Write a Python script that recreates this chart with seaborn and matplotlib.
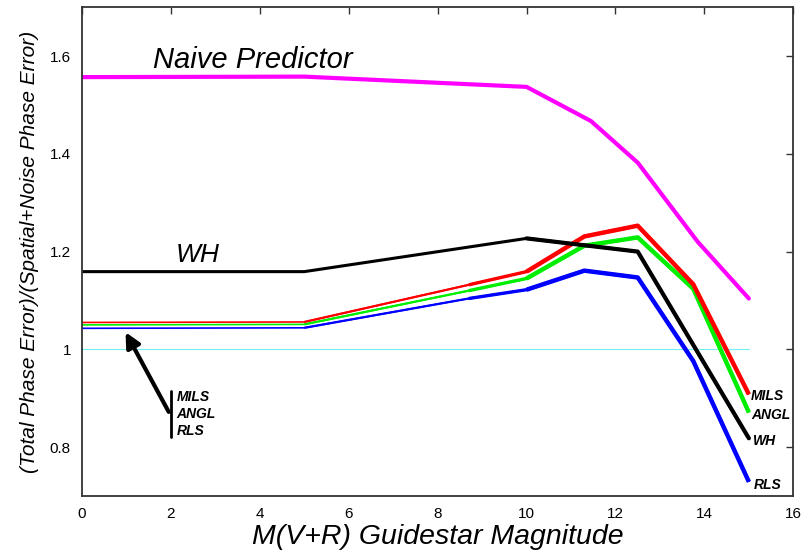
import pandas as pd
import matplotlib.pyplot as plt
import seaborn as sns

# values
x_rgb = [0, 5, 8.7, 10, 11.3, 12.5, 13.75, 15]
mils = [1.055, 1.056, 1.132, 1.159, 1.231, 1.253, 1.133, 0.908]
angl = [1.050, 1.051, 1.120, 1.145, 1.212, 1.229, 1.124, 0.871]
rls = [1.043, 1.044, 1.104, 1.122, 1.161, 1.147, 0.976, 0.729]

x_wh = [0, 5, 10, 12.5, 15]
wh = [1.159, 1.159, 1.227, 1.200, 0.818]

x_naive = [0, 5, 10, 11.45, 12.5, 13.85, 15]
naive = [1.557, 1.558, 1.537, 1.467, 1.382, 1.220, 1.104]

x_ref = [0, 15]
ref = [1.0, 1.0]

xticks = [0, 2, 4, 6, 8, 10, 12, 14, 16]
yticks = [0.8, 1.0, 1.2, 1.4, 1.6]
ytick_labels = ['0.8', '1', '1.2', '1.4', '1.6']

sns.set_style('white')
plt.rcParams['font.family'] = ['Liberation Sans', 'DejaVu Sans']
plt.rcParams['text.color'] = 'black'
plt.rcParams['axes.labelcolor'] = 'black'

fig = plt.figure(figsize=(8.01, 5.56), dpi=100)
ax = fig.add_axes([0.1024, 0.108, 0.888, 0.879])

df_rgb = pd.DataFrame({'x': x_rgb, 'MILS': mils, 'ANGL': angl, 'RLS': rls})
df_wh = pd.DataFrame({'x': x_wh, 'WH': wh})
df_naive = pd.DataFrame({'x': x_naive, 'Naive': naive})

sns.lineplot(x=x_ref, y=ref, ax=ax, color='#70f0f8', lw=0.8)

# lines get thicker towards the right, as in the original
colors = {'MILS': '#ff0000', 'ANGL': '#00ee00', 'RLS': '#0000ff'}
for name in ['RLS', 'ANGL', 'MILS']:
    for lo, lw in [(0, 1.2), (5, 1.6), (8.7, 2.4), (10, 3.2)]:
        part = df_rgb[df_rgb.x >= lo]
        sns.lineplot(data=part, x='x', y=name, ax=ax, color=colors[name], lw=lw,
                     solid_capstyle='butt', estimator=None, sort=False)

for lo, lw in [(0, 2.2), (10, 3.0)]:
    part = df_wh[df_wh.x >= lo]
    sns.lineplot(data=part, x='x', y='WH', ax=ax, color='black', lw=lw,
                 estimator=None, sort=False)

sns.lineplot(data=df_naive, x='x', y='Naive', ax=ax, color='#ff00ff', lw=3.0,
             estimator=None, sort=False)

ax.set_xlim(0, 16)
ax.set_ylim(0.7, 1.7)
ax.set_xticks(xticks)
ax.set_xticklabels([str(t) for t in xticks])
ax.set_yticks(yticks)
ax.set_yticklabels(ytick_labels)
ax.tick_params(direction='in', length=5, width=1, color='#333333', labelsize=11,
               top=True, right=True, labelcolor='black', pad=8)
for s in ax.spines.values():
    s.set_color('#333333')
    s.set_linewidth(1.3)

ax.set_xlabel('M(V+R) Guidestar Magnitude', fontsize=20.5, style='italic', labelpad=2)
ax.set_ylabel('(Total Phase Error)/(Spatial+Noise Phase Error)', fontsize=15,
              style='italic', labelpad=8)

ax.text(1.6, 1.593, 'Naive Predictor', fontsize=21, style='italic', ha='left', va='center')
ax.text(2.1, 1.192, 'WH', fontsize=19, style='italic', ha='left', va='center')

lab = dict(fontsize=10, style='italic', fontweight='bold', ha='left', va='center')
ax.text(15.05, 0.905, 'MILS', **lab)
ax.text(15.05, 0.866, 'ANGL', **lab)
ax.text(15.1, 0.812, 'WH', **lab)
ax.text(15.1, 0.722, 'RLS', **lab)

ax.annotate('', xy=(0.95, 1.04), xytext=(1.98, 0.867),
            arrowprops=dict(arrowstyle='-|>', color='black', lw=3, mutation_scale=22))
ax.plot([2.0, 2.0], [0.82, 0.914], color='black', lw=2)
ax.text(2.13, 0.902, 'MILS', **lab)
ax.text(2.13, 0.868, 'ANGL', **lab)
ax.text(2.13, 0.833, 'RLS', **lab)

fig.savefig('out.png', dpi=100)
